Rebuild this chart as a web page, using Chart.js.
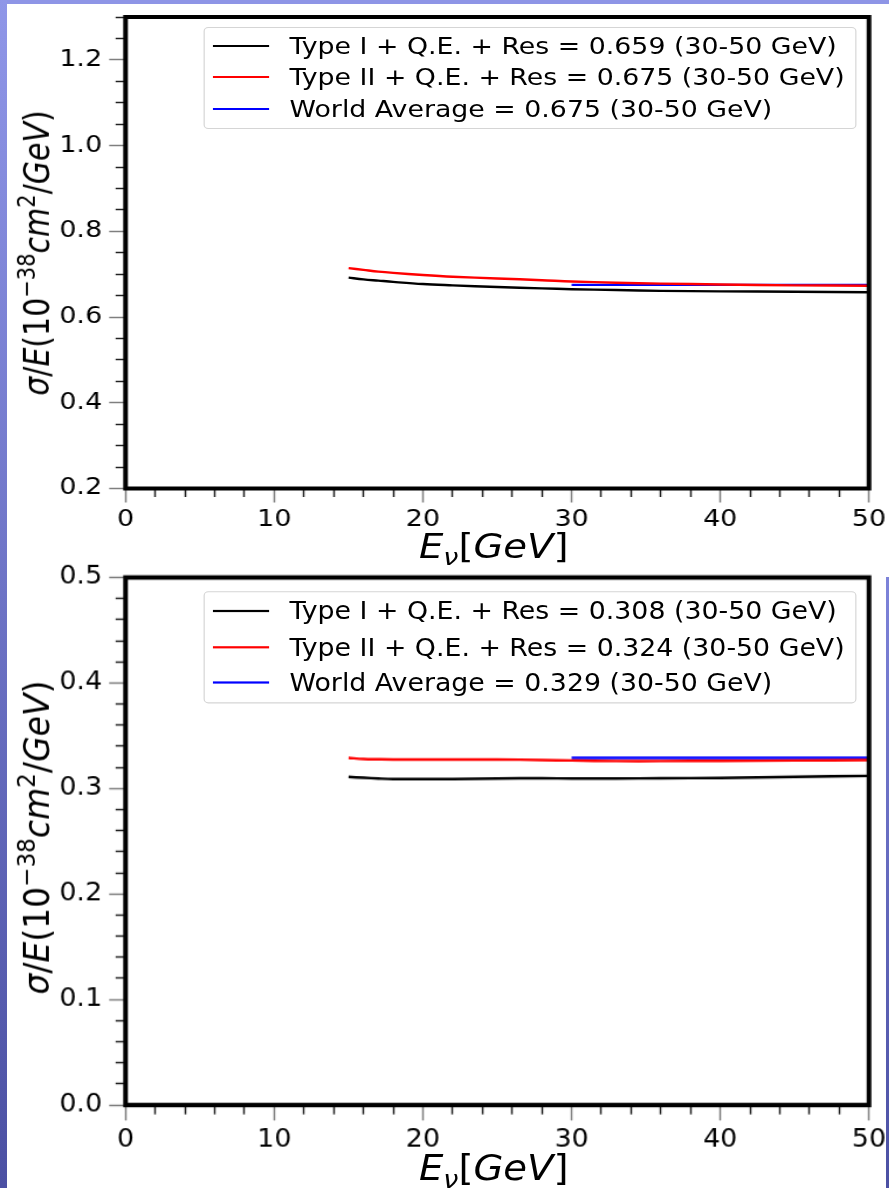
<!DOCTYPE html>
<html>
<head>
<meta charset="utf-8">
<script src="https://cdn.jsdelivr.net/npm/chart.js@4.4.1/dist/chart.umd.min.js"></script>
<style>
  html, body { margin: 0; padding: 0; }
  body { width: 889px; height: 1188px; position: relative; overflow: hidden; background: #fff; font-family: 'DejaVu Sans', sans-serif; }
  .strip-left { position: absolute; left: 0; top: 0; width: 7px; height: 1188px; background: linear-gradient(#8f96e8, #4b50a3); }
  .strip-top { position: absolute; left: 0; top: 0; width: 889px; height: 4px; background: #8e95e6; }
  .strip-right { position: absolute; left: 886px; top: 577px; width: 3px; height: 611px; background: linear-gradient(#7d83d9, #4b50a3); }
  .panel { position: absolute; left: 0; width: 760px; transform-origin: 0 0; }
  .panel canvas { position: absolute; left: 0; top: 0; }
  .legend { position: absolute; border: 1px solid #d5d5d5; border-radius: 4px; background: rgba(255,255,255,0.85); box-sizing: border-box; }
  .row { position: absolute; left: 0; right: 0; height: 0; }
  .swatch { position: absolute; left: 7px; width: 48px; height: 2px; top: -1px; }
  .label { position: absolute; left: 73px; top: 0; transform: translateY(-50%); font-size: 22.9px; line-height: 1; white-space: nowrap; color: #000; }
  .xtitle, .ytitle { position: absolute; line-height: 1; white-space: nowrap; color: #000; }
  .xtitle { font-size: 33px; transform: translate(-50%, -50%); }
  .ytitle { font-size: 30px; transform: translate(-50%, -50%) rotate(-90deg); }
  sup, sub { font-size: 70%; line-height: 0; position: relative; vertical-align: baseline; }
  sup { top: -0.55em; }
  sub { top: 0.3em; }
</style>
</head>
<body>
<div class="strip-top"></div>
<div class="strip-left"></div>
<div class="strip-right"></div>

<div class="panel" id="panel-top" style="top:0; height:545px; transform:scale(1.17,1);">
  <canvas id="chart-top" width="760" height="545"></canvas>
  <div class="legend" id="legend-top" style="left:173.5px; top:27px; width:558px; height:102px;"></div>
  <div class="xtitle" style="left:422px; top:546px;"><i>E</i><sub><i>ν</i></sub>[<i>GeV</i>]</div>
  <div class="ytitle" style="left:31.5px; top:253px;"><i>σ</i>/<i>E</i>(10<sup>−38</sup><i>cm</i><sup>2</sup>/<i>GeV</i>)</div>
</div>

<div class="panel" id="panel-bottom" style="top:545px; height:585px; transform:scale(1.17,1.1);">
  <canvas id="chart-bottom" width="760" height="585"></canvas>
  <div class="legend" id="legend-bottom" style="left:173.5px; top:41.8px; width:558px; height:101.8px;"></div>
  <div class="xtitle" style="left:422px; top:566.4px;"><i>E</i><sub><i>ν</i></sub>[<i>GeV</i>]</div>
  <div class="ytitle" style="left:31.5px; top:266px;"><i>σ</i>/<i>E</i>(10<sup>−38</sup><i>cm</i><sup>2</sup>/<i>GeV</i>)</div>
</div>

<script>
// Data
const energy = [15, 16, 17, 18, 20, 22, 25, 28, 30, 33, 36, 40, 45, 50];
const worldEnergy = [30, 50];

// top panel
const typeITop = [0.692, 0.688, 0.685, 0.682, 0.677, 0.674, 0.670, 0.667, 0.665, 0.663, 0.661, 0.660, 0.659, 0.658];
const typeIITop = [0.714, 0.710, 0.706, 0.703, 0.698, 0.694, 0.690, 0.686, 0.683, 0.680, 0.678, 0.676, 0.674, 0.673];
const worldTop = [0.675, 0.675];
const legendTop = [
  'Type I + Q.E. + Res = 0.659 (30-50 GeV)',
  'Type II + Q.E. + Res = 0.675 (30-50 GeV)',
  'World Average = 0.675 (30-50 GeV)'
];
const yTicksTop = [0.2, 0.4, 0.6, 0.8, 1.0, 1.2];

// bottom panel
const typeIBottom = [0.311, 0.3102, 0.3095, 0.309, 0.309, 0.309, 0.3095, 0.3098, 0.3095, 0.3095, 0.3098, 0.310, 0.311, 0.312];
const typeIIBottom = [0.329, 0.328, 0.3277, 0.3275, 0.3275, 0.3275, 0.3275, 0.327, 0.3265, 0.326, 0.326, 0.3262, 0.3265, 0.327];
const worldBottom = [0.329, 0.329];
const legendBottom = [
  'Type I + Q.E. + Res = 0.308 (30-50 GeV)',
  'Type II + Q.E. + Res = 0.324 (30-50 GeV)',
  'World Average = 0.329 (30-50 GeV)'
];
const yTicksBottom = [0.0, 0.1, 0.2, 0.3, 0.4, 0.5];

const xTicks = [0, 10, 20, 30, 40, 50];
const colors = ['#000000', '#ff0000', '#0000ff'];

Chart.defaults.font.family = "'DejaVu Sans', sans-serif";
Chart.defaults.color = '#000';

// plot area, in the panel's own (unscaled) pixels
const AREA_LEFT = 107.3;
const AREA_RIGHT = 742.7;
const CANVAS_W = 760;

// thick box round the plot area
const framePlugin = {
  id: 'frame',
  afterDatasetsDraw(chart) {
    const { ctx, chartArea: a } = chart;
    ctx.save();
    ctx.strokeStyle = '#000';
    ctx.lineWidth = 4;
    ctx.strokeRect(a.left, a.top, a.right - a.left, a.bottom - a.top);
    ctx.restore();
  }
};

function fixSize(size) {
  return (s) => {
    if (s.isHorizontal()) s.height = size; else s.width = size;
    s.paddingLeft = s.paddingRight = s.paddingTop = s.paddingBottom = 0;
  };
}

function onStep(v, step) {
  const r = v / step;
  return Math.abs(r - Math.round(r)) < 1e-6;
}

function toPoints(xs, ys) {
  return xs.map((x, i) => ({ x: x, y: ys[i] }));
}

function buildLegend(id, labels, rows) {
  const box = document.getElementById(id);
  labels.forEach((text, i) => {
    const row = document.createElement('div');
    row.className = 'row';
    row.style.top = rows[i] + 'px';
    const sw = document.createElement('div');
    sw.className = 'swatch';
    sw.style.background = colors[i];
    const lab = document.createElement('div');
    lab.className = 'label';
    lab.textContent = text;
    row.appendChild(sw);
    row.appendChild(lab);
    box.appendChild(row);
  });
}

function buildChart(id, cfg) {
  const datasets = [
    { data: toPoints(energy, cfg.typeI), borderColor: colors[0] },
    { data: toPoints(energy, cfg.typeII), borderColor: colors[1] },
    { data: toPoints(worldEnergy, cfg.world), borderColor: colors[2] }
  ].map(d => Object.assign(d, { borderWidth: 2.4, pointRadius: 0, tension: 0.35, fill: false }));

  return new Chart(document.getElementById(id), {
    type: 'line',
    data: { datasets: datasets },
    options: {
      responsive: false,
      animation: false,
      devicePixelRatio: 1,
      layout: { padding: { left: 0, top: cfg.areaTop, right: CANVAS_W - AREA_RIGHT, bottom: 0 } },
      plugins: { legend: { display: false }, tooltip: { enabled: false } },
      scales: {
        x: {
          type: 'linear', position: 'bottom', min: 0, max: 50, weight: 1,
          afterBuildTicks: s => { s.ticks = xTicks.map(v => ({ value: v })); },
          ticks: { autoSkip: false, maxRotation: 0, padding: 4, font: { size: 23 } },
          grid: { drawOnChartArea: false, tickLength: 14, tickColor: '#7f7f7f', tickWidth: 1.5 },
          border: { display: false },
          afterFit: fixSize(cfg.height - cfg.areaBottom)
        },
        xMinor: {
          type: 'linear', axis: 'x', position: 'bottom', min: 0, max: 50, weight: 0,
          ticks: { display: false, stepSize: 2, maxTicksLimit: 100 },
          grid: {
            drawOnChartArea: false, tickLength: 8.5, tickWidth: 1.5,
            tickColor: ctx => onStep(ctx.tick.value, 10) ? 'rgba(0,0,0,0)' : '#222'
          },
          border: { display: false },
          afterFit: fixSize(0)
        },
        y: {
          type: 'linear', position: 'left', min: cfg.yMin, max: cfg.yMax, weight: 1,
          afterBuildTicks: s => { s.ticks = cfg.yTicks.map(v => ({ value: v })); },
          ticks: { autoSkip: false, padding: 6, font: { size: 23 }, callback: v => v.toFixed(1) },
          grid: { drawOnChartArea: false, tickLength: 14, tickColor: '#7f7f7f', tickWidth: 1.5 },
          border: { display: false },
          afterFit: fixSize(AREA_LEFT)
        },
        yMinor: {
          type: 'linear', axis: 'y', position: 'left', min: cfg.yMin, max: cfg.yMax, weight: 0,
          ticks: { display: false, stepSize: cfg.minorStep, maxTicksLimit: 100, includeBounds: false },
          grid: {
            drawOnChartArea: false, tickLength: 8.5, tickWidth: 1.5,
            tickColor: ctx => onStep(ctx.tick.value, cfg.majorStep) ? 'rgba(0,0,0,0)' : '#222'
          },
          border: { display: false },
          afterFit: fixSize(0)
        }
      }
    },
    plugins: [framePlugin]
  });
}

buildChart('chart-top', {
  typeI: typeITop, typeII: typeIITop, world: worldTop,
  yMin: 0.2, yMax: 1.3, yTicks: yTicksTop, majorStep: 0.2, minorStep: 0.05,
  areaTop: 17, areaBottom: 488.5, height: 545
});

buildChart('chart-bottom', {
  typeI: typeIBottom, typeII: typeIIBottom, world: worldBottom,
  yMin: 0, yMax: 0.5, yTicks: yTicksBottom, majorStep: 0.1, minorStep: 0.02,
  areaTop: 29.5, areaBottom: 509.1, height: 585
});

buildLegend('legend-top', legendTop, [18, 49, 81]);
buildLegend('legend-bottom', legendBottom, [17.3, 50, 82.7]);
</script>
</body>
</html>
